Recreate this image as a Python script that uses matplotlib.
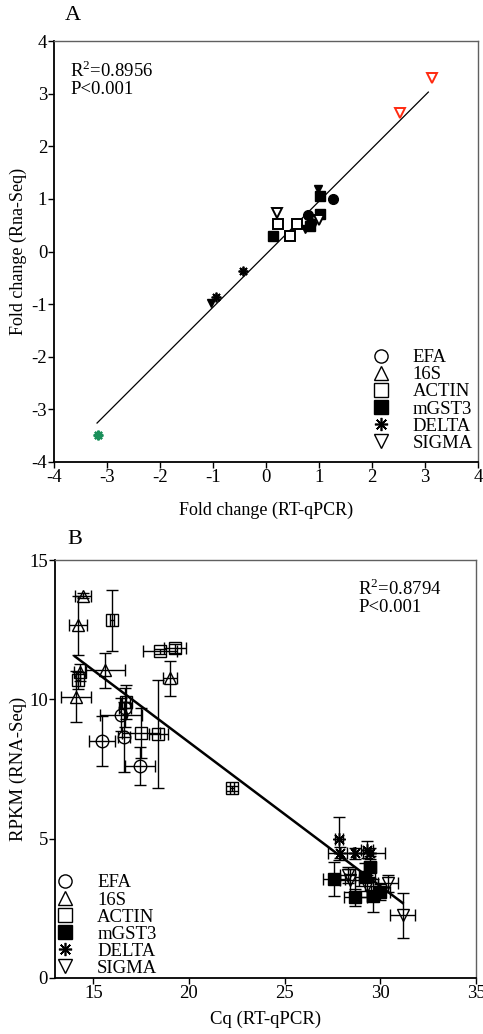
import matplotlib
matplotlib.use("Agg")
import matplotlib.pyplot as plt
from matplotlib.lines import Line2D

plt.rcParams['font.family'] = ['Liberation Serif', 'DejaVu Serif']
plt.rcParams['mathtext.fontset'] = 'custom'
plt.rcParams['mathtext.rm'] = 'Liberation Serif'
plt.rcParams['axes.unicode_minus'] = False

# ---------------- Panel A data ----------------
a_efa_x = [0.79, 1.26, 0.85]
a_efa_y = [0.69, 1.00, 0.55]
a_actin_x = [0.23, 0.45, 0.58]
a_actin_y = [0.52, 0.30, 0.52]
a_mgst3_x = [0.13, 1.02, 1.02, 0.83]
a_mgst3_y = [0.30, 0.71, 1.05, 0.48]
a_delta_x = [-0.43, -0.94]
a_delta_y = [-0.37, -0.87]
a_delta_green_x = [-3.17]
a_delta_green_y = [-3.49]
a_sigma_x = [0.21, 1.00]
a_sigma_y = [0.73, 0.60]
a_sigma_red_x = [2.53, 3.13]
a_sigma_red_y = [2.63, 3.30]
a_sigma_filled_x = [0.98, -1.04, 0.74]
a_sigma_filled_y = [1.18, -0.98, 0.42]
a_fit_x = [-3.19, 3.06]
a_fit_y = [-3.26, 3.03]
a_ticks = [-4, -3, -2, -1, 0, 1, 2, 3, 4]

# ---------------- Panel B data ----------------
b_efa_x = [16.65, 16.45, 16.60, 15.45, 17.45]
b_efa_y = [9.70, 9.45, 8.65, 8.50, 7.60]
b_efa_xe = [0.30, 1.10, 0.30, 0.70, 0.77]
b_efa_ye = [0.70, 0.60, 1.25, 0.90, 0.68]

b_16s_x = [14.46, 14.20, 14.30, 15.60, 14.10, 19.00]
b_16s_y = [13.72, 12.65, 10.97, 11.04, 10.10, 10.75]
b_16s_xe = [0.44, 0.45, 0.30, 1.05, 0.80, 0.35]
b_16s_ye = [0.10, 1.07, 0.30, 0.63, 0.90, 0.63]

b_actin_x = [15.98, 18.48, 19.27, 14.20, 17.50, 18.40, 16.70, 22.25]
b_actin_y = [12.83, 11.72, 11.83, 10.68, 8.78, 8.75, 9.90, 6.80]
b_actin_xe = [0.10, 0.90, 0.60, 0.10, 1.00, 0.50, 0.20, 0.10]
b_actin_ye = [1.10, 0.10, 0.15, 0.30, 0.90, 1.95, 0.60, 0.10]

b_mgst3_x = [27.60, 29.45, 29.20, 28.70, 29.60, 30.00]
b_mgst3_y = [3.55, 3.98, 3.62, 2.90, 2.95, 3.08]
b_mgst3_xe = [0.57, 0.30, 0.50, 0.60, 0.30, 0.50]
b_mgst3_ye = [0.60, 0.40, 0.50, 0.30, 0.60, 0.30]

b_delta_x = [27.83, 27.90, 28.67, 29.45, 29.30]
b_delta_y = [5.00, 4.50, 4.47, 4.47, 4.60]
b_delta_xe = [0.20, 0.65, 0.40, 0.80, 0.30]
b_delta_ye = [0.78, 0.20, 0.20, 0.20, 0.30]

b_sigma_x = [28.40, 30.40, 31.17, 29.30, 28.30]
b_sigma_y = [3.50, 3.40, 2.25, 3.30, 3.70]
b_sigma_xe = [0.50, 0.50, 0.65, 0.60, 0.40]
b_sigma_ye = [0.40, 0.30, 0.80, 0.40, 0.30]

b_fit_x = [14.04, 31.17]
b_fit_y = [11.54, 2.69]
b_xticks = [15, 20, 25, 30, 35]
b_yticks = [0, 5, 10, 15]

legend_labels = ['EFA', '16S', 'ACTIN', 'mGST3', 'DELTA', 'SIGMA']

FS = 13.5
fig = plt.figure(figsize=(4.83, 10.34), dpi=100)


def style_axes(ax):
    for s in ['left', 'bottom']:
        ax.spines[s].set_color('black')
        ax.spines[s].set_linewidth(1.3)
    for s in ['top', 'right']:
        ax.spines[s].set_color('#606060')
        ax.spines[s].set_linewidth(1.0)
    ax.tick_params(direction='out', length=4, width=1, labelsize=FS, pad=1)


def legend_handles():
    kw = dict(linestyle='none', color='black', markersize=9.5)
    return [
        Line2D([], [], marker='o', markerfacecolor='white', markeredgewidth=1.0, **kw),
        Line2D([], [], marker='^', markerfacecolor='white', markeredgewidth=1.0, **kw),
        Line2D([], [], marker='s', markerfacecolor='white', markeredgewidth=1.0, **kw),
        Line2D([], [], marker='s', markerfacecolor='black', **kw),
        Line2D([], [], marker=(8, 2, 0), markeredgewidth=1.2, **kw),
        Line2D([], [], marker='v', markerfacecolor='white', markeredgewidth=1.0, **kw),
    ]


# ================= Panel A =================
axA = fig.add_axes([0.112, 0.5532, 0.878, 0.4071])
axA.plot(a_fit_x, a_fit_y, color='black', lw=0.9, zorder=1)
ms = 7.5
axA.plot(a_actin_x, a_actin_y, 's', mfc='white', mec='black', mew=1.4, ms=ms, zorder=2)
axA.plot(a_mgst3_x, a_mgst3_y, 's', mfc='black', mec='black', ms=ms, zorder=3)
axA.plot(a_efa_x, a_efa_y, 'o', mfc='black', mec='black', ms=7, zorder=3)
axA.plot(a_sigma_x, a_sigma_y, 'v', mfc='white', mec='black', mew=1.4, ms=ms, zorder=3)
axA.plot(a_sigma_filled_x, a_sigma_filled_y, 'v', mfc='black', mec='black', ms=6, zorder=3)
axA.plot(a_delta_x, a_delta_y, marker=(8, 2, 0), ls='none', color='black', mew=1.3, ms=7, zorder=3)
axA.plot(a_delta_green_x, a_delta_green_y, marker=(8, 2, 0), ls='none', color='#1a8f5a', mew=1.6, ms=7, zorder=3)
axA.plot(a_sigma_red_x, a_sigma_red_y, 'v', mfc='white', mec='#ff2a10', mew=1.4, ms=ms, zorder=3)
axA.set_xlim(-4, 4)
axA.set_ylim(-4, 4)
axA.set_xticks(a_ticks)
axA.set_yticks(a_ticks)
style_axes(axA)
axA.set_xlabel('Fold change (RT-qPCR)', fontsize=FS - 0.5, va='center')
axA.set_ylabel('Fold change (Rna-Seq)', fontsize=FS - 0.5, va='center')
axA.xaxis.set_label_coords(0.5, -0.114)
axA.yaxis.set_label_coords(-0.085, 0.5)
axA.text(0.038, 0.93, r'R$^{2}$=0.8956', transform=axA.transAxes, fontsize=FS, va='center')
axA.text(0.038, 0.885, 'P<0.001', transform=axA.transAxes, fontsize=FS, va='center')
fig.text(73 / 483, 1 - 15 / 1034, 'A', fontsize=16, ha='center', va='center')
legA = axA.legend(legend_handles(), legend_labels, loc='lower right', frameon=False,
                  bbox_to_anchor=(0.99, 0.022),
                  fontsize=FS, handlelength=1.0, handletextpad=1.2, labelspacing=0.0,
                  borderaxespad=0.0, borderpad=0.05)

# ================= Panel B =================
axB = fig.add_axes([0.1139, 0.0542, 0.8716, 0.4042])
axB.plot(b_fit_x, b_fit_y, color='black', lw=1.8, zorder=1)
eb = dict(ecolor='black', elinewidth=1.0, capsize=4, capthick=1.0, ls='none', zorder=2)
mkB = 9
axB.errorbar(b_efa_x, b_efa_y, xerr=b_efa_xe, yerr=b_efa_ye, fmt='o', mfc='none', mec='black', mew=1.0, ms=mkB, **eb)
axB.errorbar(b_16s_x, b_16s_y, xerr=b_16s_xe, yerr=b_16s_ye, fmt='^', mfc='none', mec='black', mew=1.0, ms=mkB, **eb)
axB.errorbar(b_actin_x, b_actin_y, xerr=b_actin_xe, yerr=b_actin_ye, fmt='s', mfc='none', mec='black', mew=1.0, ms=mkB, **eb)
axB.errorbar(b_mgst3_x, b_mgst3_y, xerr=b_mgst3_xe, yerr=b_mgst3_ye, fmt='s', mfc='black', mec='black', ms=mkB, **eb)
axB.errorbar(b_delta_x, b_delta_y, xerr=b_delta_xe, yerr=b_delta_ye, fmt='none', **eb)
axB.plot(b_delta_x, b_delta_y, marker=(8, 2, 0), ls='none', color='black', mew=1.1, ms=mkB, zorder=3)
axB.errorbar(b_sigma_x, b_sigma_y, xerr=b_sigma_xe, yerr=b_sigma_ye, fmt='v', mfc='none', mec='black', mew=1.0, ms=mkB, **eb)
axB.set_xlim(13, 35)
axB.set_ylim(0, 15)
axB.set_xticks(b_xticks)
axB.set_yticks(b_yticks)
style_axes(axB)
axB.set_xlabel('Cq (RT-qPCR)', fontsize=FS, va='center')
axB.set_ylabel('RPKM (RNA-Seq)', fontsize=FS, va='center')
axB.xaxis.set_label_coords(0.5, -0.10)
axB.yaxis.set_label_coords(-0.088, 0.5)
axB.text(0.72, 0.932, r'R$^{2}$=0.8794', transform=axB.transAxes, fontsize=FS, va='center')
axB.text(0.72, 0.886, 'P<0.001', transform=axB.transAxes, fontsize=FS, va='center')
fig.text(75 / 483, 1 - 540 / 1034, 'B', fontsize=16, ha='center', va='center')
legB = axB.legend(legend_handles(), legend_labels, loc='lower left', frameon=False,
                  fontsize=FS, handlelength=1.0, handletextpad=1.2, labelspacing=0.0,
                  borderaxespad=0.0, borderpad=0.05)

fig.savefig('out.png', dpi=100)
